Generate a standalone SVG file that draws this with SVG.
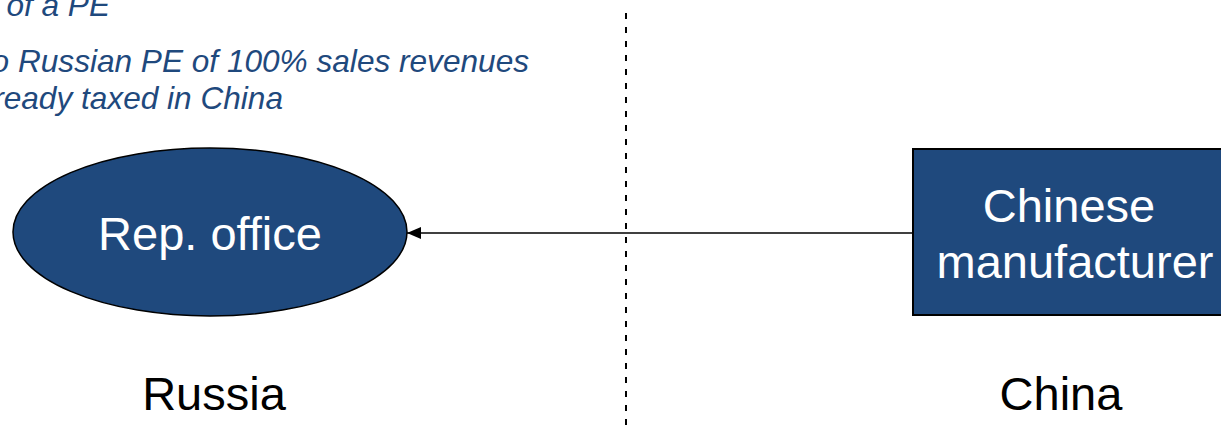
<svg xmlns="http://www.w3.org/2000/svg" width="1221" height="428" viewBox="0 0 1221 428">
  <style>
    .note { font-family: "Liberation Sans", Arial, sans-serif; font-style: italic; font-size: 31.6px; fill: #1F497D; }
    .node-label { font-family: "Liberation Sans", Arial, sans-serif; font-size: 47px; fill: #FFFFFF; text-anchor: middle; }
    .country { font-family: "Liberation Sans", Arial, sans-serif; font-size: 47px; fill: #000000; text-anchor: middle; }
    .node-shape { fill: #1F497D; stroke: #000000; }
    .border { stroke: #000000; stroke-width: 2; stroke-dasharray: 6 8; fill: none; }
    .flow { stroke: #000000; stroke-width: 1.5; fill: none; }
  </style>
  <defs>
    <marker id="arrow" viewBox="0 0 14 12" refX="14" refY="6" markerWidth="14" markerHeight="12" markerUnits="userSpaceOnUse" orient="auto">
      <path d="M0,0 L14,6 L0,12 Z" fill="#000000"/>
    </marker>
  </defs>

  <rect width="1221" height="428" fill="#FFFFFF"/>

  <!-- explanatory notes, top left -->
  <g id="notes">
    <text class="note" x="110" y="16" text-anchor="end">of a PE</text>
    <text class="note" x="529" y="72" text-anchor="end">o Russian PE of 100% sales revenues</text>
    <text class="note" x="283" y="109" text-anchor="end">ready taxed in China</text>
  </g>

  <!-- country border -->
  <g id="border">
    <line class="border" x1="626" y1="13" x2="626" y2="428"/>
  </g>

  <!-- connectors -->
  <g id="connectors">
    <line class="flow" x1="913" y1="233" x2="407" y2="233" marker-end="url(#arrow)"/>
  </g>

  <!-- nodes -->
  <g id="rep-office">
    <ellipse class="node-shape" stroke-width="1.5" cx="210" cy="232" rx="197" ry="84"/>
    <text class="node-label" x="210" y="250">Rep. office</text>
  </g>

  <g id="chinese-manufacturer">
    <rect class="node-shape" stroke-width="2" x="913" y="149" width="320" height="166"/>
    <text class="node-label" x="1069" y="222">Chinese</text>
    <text class="node-label" x="1075" y="278">manufacturer</text>
  </g>

  <!-- country labels -->
  <g id="labels">
    <text class="country" x="214" y="410">Russia</text>
    <text class="country" x="1061" y="410">China</text>
  </g>
</svg>
